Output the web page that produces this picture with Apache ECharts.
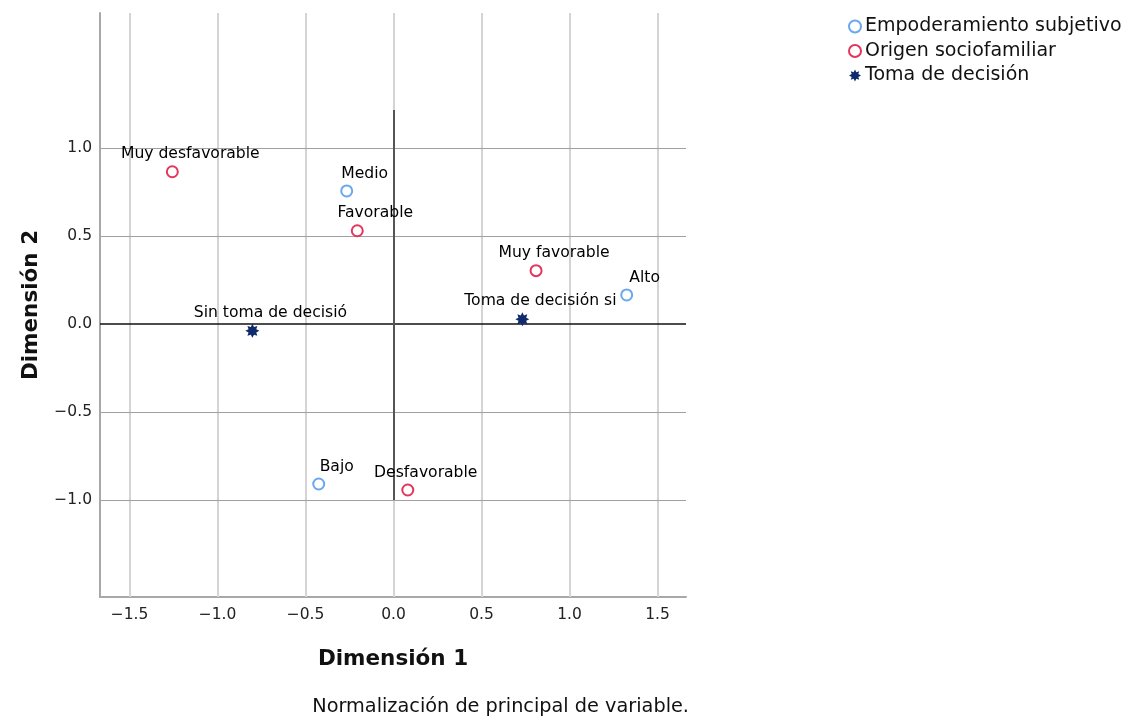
<!DOCTYPE html>
<html>
<head>
<meta charset="utf-8">
<script src="https://cdn.jsdelivr.net/npm/echarts@6/dist/echarts.min.js"></script>
<style>html,body{margin:0;padding:0;background:#fff}#c{width:1127px;height:717px}</style>
</head>
<body>
<div id="c"></div>
<script>
// ---- data ----
const empoderamientoNames = ['Medio', 'Alto', 'Bajo'];
const empoderamientoX = [-0.266, 1.325, -0.425];
const empoderamientoY = [0.756, 0.165, -0.909];

const origenNames = ['Muy desfavorable', 'Favorable', 'Muy favorable', 'Desfavorable'];
const origenX = [-1.257, -0.206, 0.810, 0.081];
const origenY = [0.865, 0.530, 0.303, -0.943];

const tomaNames = ['Sin toma de decisió', 'Toma de decisión si'];
const tomaX = [-0.802, 0.732];
const tomaY = [-0.039, 0.027];

const xTicks = [-1.5, -1.0, -0.5, 0.0, 0.5, 1.0, 1.5];
const yTicks = [-1.0, -0.5, 0.0, 0.5, 1.0];
const xRange = [-1.668, 1.662];
const yRange = [-1.551, 1.767];
const vRefLineY = [-1.0, 1.216];

const seriesNames = ['Empoderamiento subjetivo', 'Origen sociofamiliar', 'Toma de decisión'];

// ---- styles ----
const FONT = 'DejaVu Sans';
const BLUE = '#69a7ef', RED = '#e3365c', NAVY = '#0f2b6e';

function starPath(){
  let p = [];
  for (let k = 0; k < 16; k++) {
    const a = Math.PI * k / 8 - Math.PI / 2;
    const r = (k % 2 === 0) ? 1 : 0.6;
    p.push((k === 0 ? 'M' : 'L') + (r * Math.cos(a)).toFixed(3) + ' ' + (r * Math.sin(a)).toFixed(3));
  }
  return 'path://' + p.join(' ') + ' Z';
}
const STAR = starPath();

function pts(names, xs, ys){
  return names.map((n, i) => ({name: n, value: [xs[i], ys[i]]}));
}
const fmt = v => v.toFixed(1).replace('-', '\u2212');

const pointLabel = {
  show: true, position: 'top', distance: 3, offset: [18, 0], formatter: '{b}',
  fontFamily: FONT, fontSize: 15.6, color: '#000', opacity: 1,
  textBorderWidth: 0, textShadowBlur: 0
};

const chart = echarts.init(document.getElementById('c'));
chart.setOption({
  animation: false,
  backgroundColor: '#fff',
  grid: {left: 100, top: 13, width: 586, height: 584, containLabel: false},
  legend: {
    orient: 'vertical', left: 843, top: 12, itemGap: 5.5, itemWidth: 12, itemHeight: 12,
    textStyle: {fontFamily: FONT, fontSize: 19, color: '#111', padding: [0,0,0,-1]},
    data: seriesNames
  },
  xAxis: {
    type: 'value', min: xRange[0], max: xRange[1],
    axisLine: {show: true, onZero: false, lineStyle: {color: '#a8a8a8', width: 2}},
    axisTick: {show: false},
    splitLine: {show: false},
    axisLabel: {customValues: xTicks, formatter: fmt, margin: 10, fontFamily: FONT, fontSize: 15.5, color: '#222'},
    name: 'Dimensión 1', nameLocation: 'middle', nameGap: 51,
    nameTextStyle: {fontFamily: FONT, fontSize: 21.5, fontWeight: 'bold', color: '#111'}
  },
  yAxis: {
    type: 'value', min: yRange[0], max: yRange[1],
    axisLine: {show: true, onZero: false, lineStyle: {color: '#a8a8a8', width: 2}},
    axisTick: {show: false},
    splitLine: {show: false},
    axisLabel: {customValues: yTicks, formatter: fmt, margin: 8, fontFamily: FONT, fontSize: 15.5, color: '#222'},
    name: 'Dimensión 2', nameLocation: 'middle', nameGap: 58, nameRotate: 90,
    nameTextStyle: {fontFamily: FONT, fontSize: 21.5, fontWeight: 'bold', color: '#111'}
  },
  graphic: [{
    type: 'text', right: 1127 - 689, top: 697,
    style: {text: 'Normalización de principal de variable.', font: '19.3px "' + FONT + '"', fill: '#111'}
  }],
  series: [
    {
      type: 'scatter', name: '_grid', silent: true, data: [], z: 1,
      markLine: {
        silent: true, symbol: 'none', label: {show: false}, animation: false,
        data: xTicks.map(v => ({xAxis: v, lineStyle: {color: '#d4d4d4', width: 2, type: 'solid'}}))
          .concat(yTicks.filter(v => v !== 0).map(v => ({yAxis: v, lineStyle: {color: '#a0a0a0', width: 1, type: 'solid'}})))
      }
    },
    {
      type: 'scatter', name: '_ref', silent: true, data: [], z: 2,
      markLine: {
        silent: true, symbol: 'none', label: {show: false}, animation: false,
        data: [
          {yAxis: 0, lineStyle: {color: '#111', width: 1.5, type: 'solid'}},
          [{coord: [0, vRefLineY[0]], lineStyle: {color: '#555', width: 2, type: 'solid'}}, {coord: [0, vRefLineY[1]]}]
        ]
      }
    },
    {
      type: 'scatter', name: seriesNames[0], symbol: 'emptyCircle', symbolSize: 11, z: 5,
      itemStyle: {color: BLUE, borderWidth: 1.6, opacity: 1},
      label: pointLabel,
      data: pts(empoderamientoNames, empoderamientoX, empoderamientoY)
    },
    {
      type: 'scatter', name: seriesNames[1], symbol: 'emptyCircle', symbolSize: 11, z: 5,
      itemStyle: {color: RED, borderWidth: 1.6, opacity: 1},
      label: pointLabel,
      data: pts(origenNames, origenX, origenY)
    },
    {
      type: 'scatter', name: seriesNames[2], symbol: STAR, symbolSize: 14, z: 5,
      itemStyle: {color: NAVY, opacity: 1},
      label: pointLabel,
      data: pts(tomaNames, tomaX, tomaY)
    }
  ]
});
</script>
</body>
</html>
